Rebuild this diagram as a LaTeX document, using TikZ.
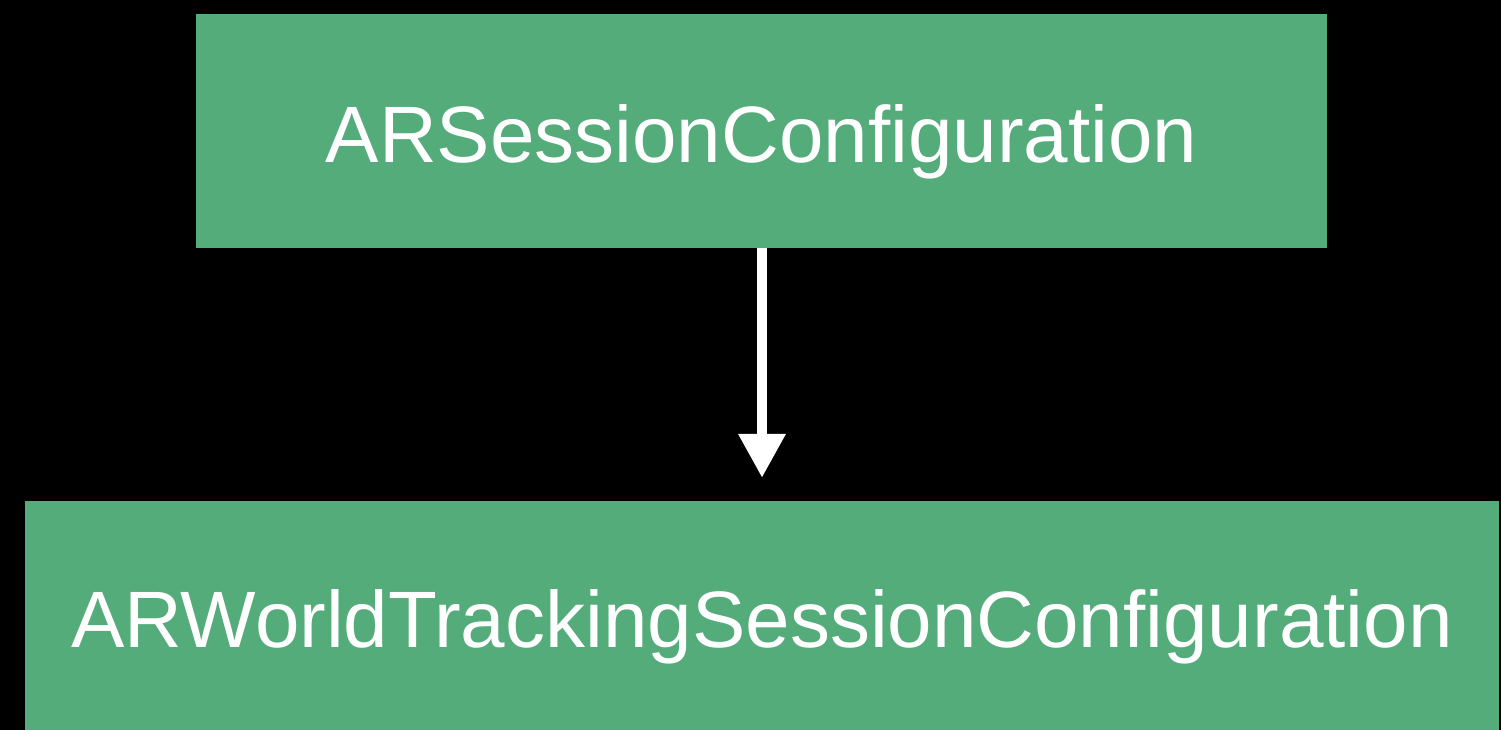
\documentclass[tikz,border=0pt]{standalone}
\usepackage{fontspec}
\setmainfont{Liberation Sans}
\usetikzlibrary{arrows.meta}
\definecolor{boxgreen}{RGB}{84,172,123}
\tikzset{
  classbox/.style={fill=boxgreen, draw=none, text=white, inner sep=0pt,
    font=\fontsize{80}{92}\selectfont, text depth=0pt},
  inherit/.style={draw=white, line width=10pt,
    -{Triangle[width=45pt,length=44pt]}, shorten >=23pt}
}
\begin{document}
\begin{tikzpicture}[x=1pt, y=-1pt]
  % canvas
  \fill[black] (0,0) rectangle (1501,730);
  \useasboundingbox (0,0) rectangle (1501,730);
  \begin{scope}
    \clip (0,0) rectangle (1501,730);
    % base class
    \node[classbox, minimum width=1131pt, minimum height=234pt, text height=64pt]
      (base) at (761.5,131) {ARSessionConfiguration};
    % subclass (runs past the lower edge)
    \node[classbox, minimum width=1474pt, minimum height=234pt, text height=58pt]
      (sub) at (762,618) {ARWorldTrackingSessionConfiguration};
  \end{scope}
  % inheritance arrow
  \draw[inherit] (base.south -| 762,0) -- (sub.north -| 762,0);
\end{tikzpicture}
\end{document}
